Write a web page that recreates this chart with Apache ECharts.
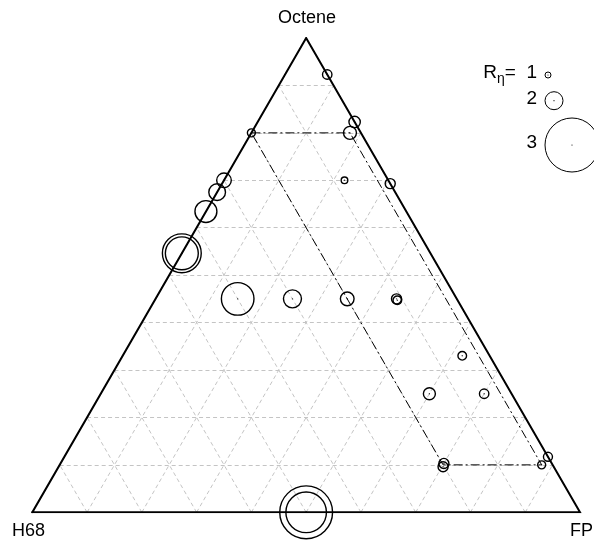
<!DOCTYPE html>
<html>
<head>
<meta charset="utf-8">
<script src="https://cdn.jsdelivr.net/npm/echarts@6/dist/echarts.min.js"></script>
<style>
  html, body { margin: 0; padding: 0; background: #fff; }
  #main { width: 594px; height: 545px; }
</style>
</head>
<body>
<div id="main"></div>
<script>
// ternary compositions (fractions)
const octene = [0.923, 0.823, 0.80, 0.80, 0.70, 0.693, 0.70, 0.675, 0.634, 0.546, 0.546, 0.45, 0.45, 0.45, 0.45, 0.447, 0.33, 0.25, 0.25, 0.117, 0.10, 0.103, 0.096, 0, 0]
const fp = [0.077, 0.177, 0, 0.18, 0.22, 0.307, 0, 0, 0, 0, 0, 0.15, 0.25, 0.35, 0.44, 0.443, 0.62, 0.60, 0.70, 0.883, 0.88, 0.70, 0.702, 0.50, 0.50]
const h68 = [0, 0, 0.20, 0.02, 0.08, 0, 0.30, 0.325, 0.366, 0.454, 0.454, 0.40, 0.30, 0.20, 0.11, 0.11, 0.05, 0.15, 0.05, 0, 0.02, 0.197, 0.202, 0.50, 0.50]
// R_eta value of each point (bubble size)
const rEta = [1.41, 1.58, 1.26, 1.70, 1.09, 1.47, 1.81, 1.93, 2.18, 2.70, 2.55, 2.54, 2.00, 1.75, 1.47, 1.33, 1.33, 1.63, 1.41, 1.37, 1.26, 1.47, 1.47, 2.98, 2.74]

// dash-dot outline
const pathOctene = [0.80, 0.80, 0.10, 0.10, 0.80]
const pathFp = [0, 0.18, 0.88, 0.70, 0]

const gridTicks = [0.1, 0.2, 0.3, 0.4, 0.5, 0.6, 0.7, 0.8, 0.9]
const legendEta = [1, 2, 3]
const legendY = [75, 100.7, 145]

const S3 = Math.sqrt(3) / 2
function toXY(b, c) {
  return [b + c / 2, c * S3]
}
function bubbleRadius(r) {
  return Math.pow(3, r)
}

const gridLines = []
gridTicks.forEach(t => {
  gridLines.push({ coords: [toXY(0, t), toXY(1 - t, t)] })     // octene const
  gridLines.push({ coords: [toXY(t, 0), toXY(t, 1 - t)] })     // fp const
  gridLines.push({ coords: [toXY(1 - t, 0), toXY(0, 1 - t)] }) // h68 const
})

const points = octene.map((c, i) => [...toXY(fp[i], c), rEta[i], h68[i]])
const outline = pathOctene.map((c, i) => toXY(pathFp[i], c))
const frame = [toXY(0, 0), toXY(1, 0), toXY(0, 1), toXY(0, 0)]

const font = '"Liberation Sans", Arial, sans-serif'

const legendGraphics = []
legendEta.forEach((v, i) => {
  const r = bubbleRadius(v)
  legendGraphics.push({
    type: 'circle',
    shape: { cx: 545 + r, cy: legendY[i], r: r },
    style: { fill: 'none', stroke: '#000', lineWidth: 1 }
  })
  legendGraphics.push({
    type: 'circle',
    shape: { cx: 545 + r, cy: legendY[i], r: 0.6 },
    style: { fill: '#000' }
  })
  legendGraphics.push({
    type: 'text',
    x: 537,
    y: legendY[i] - 2,
    style: {
      text: i === 0 ? '{r|R}{s|η}{n|=  ' + v + '}' : String(v),
      font: '19px ' + font,
      fill: '#000',
      align: 'right',
      verticalAlign: 'middle',
      rich: {
        r: { fontSize: 19, fontFamily: font },
        s: { fontSize: 14, fontFamily: font, padding: [12, 0, 0, 0] },
        n: { fontSize: 19, fontFamily: font }
      }
    }
  })
})

const chart = echarts.init(document.getElementById('main'))
chart.setOption({
  animation: false,
  grid: { left: 32.3, top: 38, width: 547.7, height: 474.3 },
  xAxis: { type: 'value', min: 0, max: 1, show: false },
  yAxis: { type: 'value', min: 0, max: S3, show: false },
  graphic: [
    { type: 'text', x: 307, y: 18, style: { text: 'Octene', font: '18px ' + font, fill: '#000', align: 'center', verticalAlign: 'middle' } },
    { type: 'text', x: 12, y: 531, style: { text: 'H68', font: '18px ' + font, fill: '#000', align: 'left', verticalAlign: 'middle' } },
    { type: 'text', x: 593, y: 531, style: { text: 'FP', font: '18px ' + font, fill: '#000', align: 'right', verticalAlign: 'middle' } },
    ...legendGraphics
  ],
  series: [
    {
      type: 'lines',
      coordinateSystem: 'cartesian2d',
      silent: true,
      data: gridLines,
      lineStyle: { color: '#c4c4c4', width: 1, type: [4, 3], opacity: 1 },
      z: 1
    },
    {
      type: 'line',
      data: outline,
      showSymbol: false,
      silent: true,
      lineStyle: { color: '#000', width: 1, type: [9, 3, 2, 3] },
      z: 2
    },
    {
      type: 'line',
      data: frame,
      showSymbol: false,
      silent: true,
      lineStyle: { color: '#000', width: 2, join: 'miter', cap: 'square' },
      z: 3
    },
    {
      type: 'scatter',
      data: points,
      clip: false,
      symbol: 'circle',
      symbolSize: v => 2 * bubbleRadius(v[2]),
      itemStyle: { color: 'rgba(0,0,0,0)', borderColor: '#000', borderWidth: 1.4, opacity: 1 },
      z: 4
    },
    {
      type: 'scatter',
      data: points,
      clip: false,
      symbolSize: 1.4,
      itemStyle: { color: '#000' },
      z: 5
    }
  ]
})
</script>
</body>
</html>
